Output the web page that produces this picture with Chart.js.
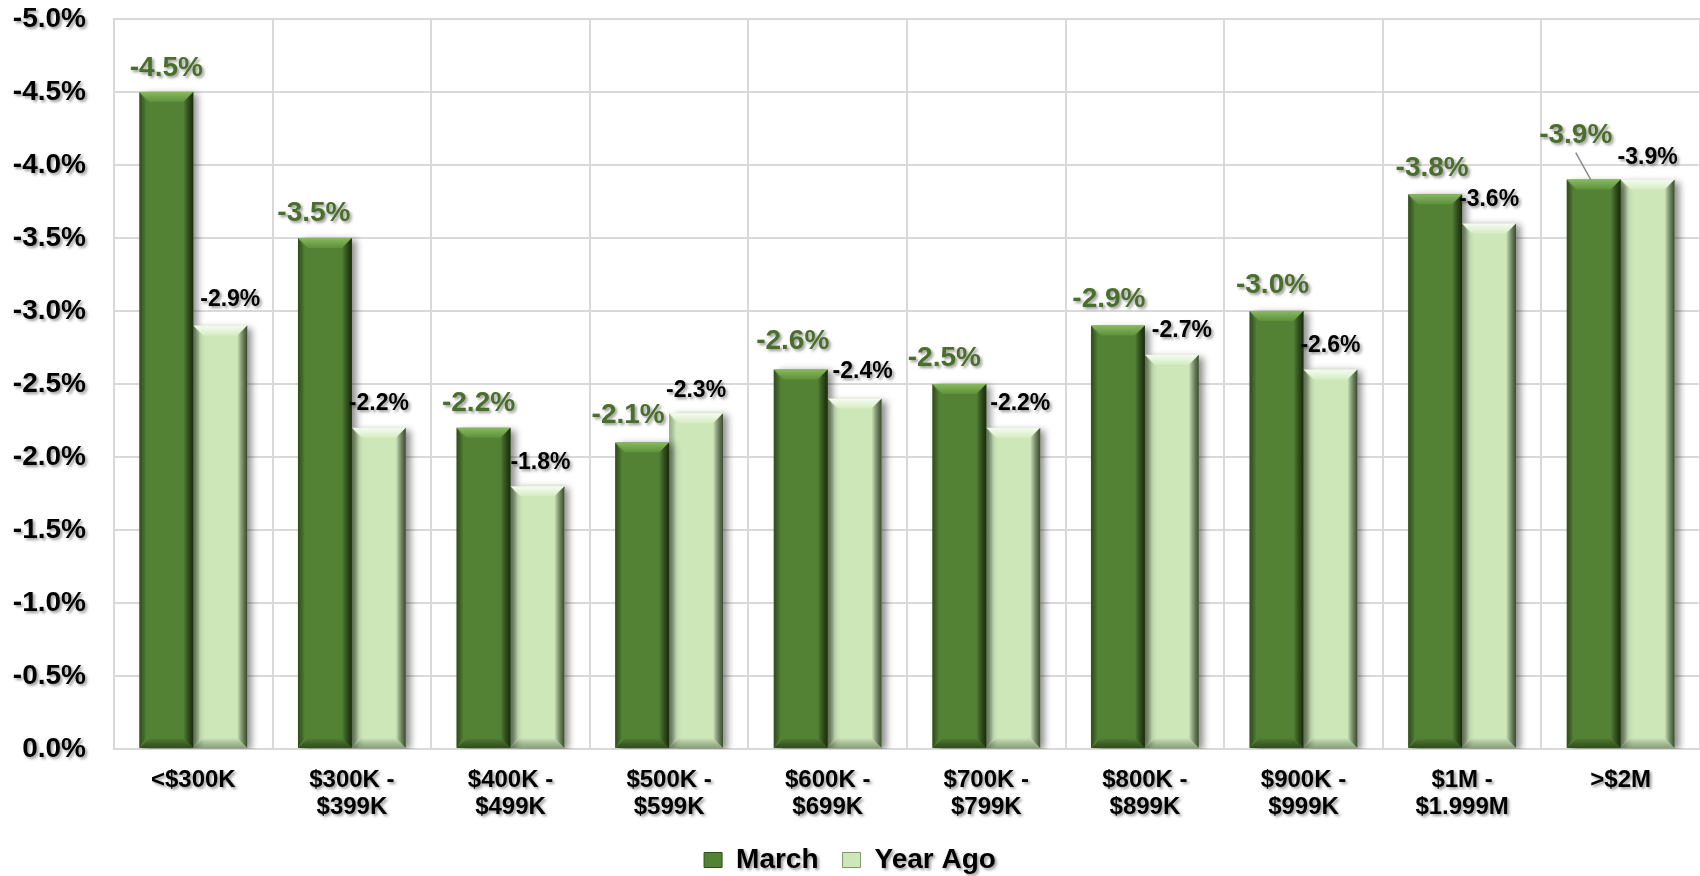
<!DOCTYPE html>
<html>
<head>
<meta charset="utf-8">
<title>Price change by price range</title>
<script src="https://cdn.jsdelivr.net/npm/chart.js@4"></script>
<style>
	html, body { margin: 0; padding: 0; background: #fff; }
	#wrap { width: 1700px; height: 876px; }
</style>
</head>
<body>
<div id="wrap"><canvas id="price-change-chart" width="1700" height="876"></canvas></div>
<script>
const categories = [
	['<$300K'],
	['$300K -', '$399K'],
	['$400K -', '$499K'],
	['$500K -', '$599K'],
	['$600K -', '$699K'],
	['$700K -', '$799K'],
	['$800K -', '$899K'],
	['$900K -', '$999K'],
	['$1M -', '$1.999M'],
	['>$2M']
];
const marchValues = [-4.5, -3.5, -2.2, -2.1, -2.6, -2.5, -2.9, -3.0, -3.8, -3.9];
const yearAgoValues = [-2.9, -2.2, -1.8, -2.3, -2.4, -2.2, -2.7, -2.6, -3.6, -3.9];
const yTicks = [-5.0, -4.5, -4.0, -3.5, -3.0, -2.5, -2.0, -1.5, -1.0, -0.5, 0.0];

// hand placed label nudges [dx, dy] from the top centre of each bar
const marchLabelNudge = [[0, -24], [-11, -25], [-5, -25], [-14, -27], [-8, -28], [-15, -26], [-9, -26], [-4, -26], [-3, -26], [-18, -44]];
const yearAgoLabelNudge = [[10, -26], [0, -24], [3, -24], [0, -23], [8, -27], [7, -24], [10, -24], [0, -24], [0, -24], [0, -22]];
const marchLeader = [false, false, false, false, false, false, false, false, false, true];

const FONT = "'Liberation Sans', Arial, Helvetica, sans-serif";
const GRID = '#d9d9d9';

const tones = [
	{ main: '#548235', hiTop: '#86b960', hiBottom: '#5e9139', edge: 'rgba(18,36,8,0.9)', edgeLeft: 'rgba(18,36,8,0.55)', bottom: 'rgba(18,36,8,0.55)', label: '#4a6f2a', labelSize: 28 },
	{ main: '#cde7b9', hiTop: '#f6fcf1', hiBottom: '#d5ecc3', edge: 'rgba(40,62,28,0.9)', edgeLeft: 'rgba(40,62,28,0.35)', bottom: 'rgba(40,62,28,0.4)', label: '#000', labelSize: 23 }
];
const nudges = [marchLabelNudge, yearAgoLabelNudge];

function poly(ctx, pts) {
	ctx.beginPath();
	ctx.moveTo(pts[0][0], pts[0][1]);
	for (let i = 1; i < pts.length; i++) ctx.lineTo(pts[i][0], pts[i][1]);
	ctx.closePath();
	ctx.fill();
}

function drawBevel(ctx, bar, tone) {
	const {x, y, base, width} = bar.getProps(['x', 'y', 'base', 'width'], true);
	const l = x - width / 2, r = x + width / 2;
	const t = Math.min(y, base), b = Math.max(y, base);
	const e = Math.min(10, (b - t) / 2);

	let g = ctx.createLinearGradient(0, t, 0, t + e);
	g.addColorStop(0, tone.hiTop);
	g.addColorStop(1, tone.hiBottom);
	ctx.fillStyle = g;
	poly(ctx, [[l, t], [r, t], [r - e, t + e], [l + e, t + e]]);

	g = ctx.createLinearGradient(r - e, 0, r, 0);
	g.addColorStop(0, 'rgba(0,0,0,0)');
	g.addColorStop(1, tone.edge);
	ctx.fillStyle = g;
	poly(ctx, [[r, t], [r, b], [r - e, b - e], [r - e, t + e]]);

	g = ctx.createLinearGradient(l, 0, l + e * 0.7, 0);
	g.addColorStop(0, tone.edgeLeft);
	g.addColorStop(1, 'rgba(0,0,0,0)');
	ctx.fillStyle = g;
	poly(ctx, [[l, t], [l + e * 0.7, t + e], [l + e * 0.7, b - e], [l, b]]);

	g = ctx.createLinearGradient(0, b - e, 0, b);
	g.addColorStop(0, 'rgba(0,0,0,0)');
	g.addColorStop(1, tone.bottom);
	ctx.fillStyle = g;
	poly(ctx, [[l, b], [l + e, b - e], [r - e, b - e], [r, b]]);
}

// soft drop shadow under every piece of text
const textShadow = {
	id: 'textShadow',
	beforeDraw(chart) {
		const ctx = chart.ctx;
		if (ctx._shadowed) return;
		const fill = ctx.fillText;
		ctx.fillText = function() {
			this.save();
			this.shadowColor = 'rgba(0,0,0,0.4)';
			this.shadowBlur = 3;
			this.shadowOffsetX = 2;
			this.shadowOffsetY = 2;
			fill.apply(this, arguments);
			this.restore();
		};
		ctx._shadowed = true;
	}
};

const bevelBars = {
	id: 'bevelBars',
	beforeDatasetsDraw(chart) {
		const ctx = chart.ctx;
		ctx.save();
		ctx.shadowColor = 'rgba(0,0,0,0.45)';
		ctx.shadowBlur = 7;
		ctx.shadowOffsetX = 5;
		ctx.shadowOffsetY = 2;
	},
	afterDatasetsDraw(chart) {
		const ctx = chart.ctx;
		ctx.restore();
		ctx.save();
		chart.data.datasets.forEach((ds, di) => {
			chart.getDatasetMeta(di).data.forEach(bar => drawBevel(ctx, bar, tones[di]));
		});

		// value labels
		chart.data.datasets.forEach((ds, di) => {
			const tone = tones[di];
			ctx.font = 'bold ' + tone.labelSize + 'px ' + FONT;
			ctx.fillStyle = tone.label;
			ctx.textAlign = 'center';
			ctx.textBaseline = 'middle';
			chart.getDatasetMeta(di).data.forEach((bar, i) => {
				const [dx, dy] = nudges[di][i];
				const lx = bar.x + dx, ly = bar.y + dy;
				if (di === 0 && marchLeader[i]) {
					ctx.save();
					ctx.strokeStyle = '#8c8c8c';
					ctx.lineWidth = 1.5;
					ctx.beginPath();
					ctx.moveTo(lx, ly + 17);
					ctx.lineTo(bar.x - 3, bar.y);
					ctx.stroke();
					ctx.restore();
				}
				ctx.fillText(ds.data[i].toFixed(1) + '%', lx, ly);
			});
		});
		ctx.restore();
	}
};

new Chart(document.getElementById('price-change-chart').getContext('2d'), {
	type: 'bar',
	data: {
		labels: categories,
		datasets: [{
			label: 'March',
			data: marchValues,
			backgroundColor: tones[0].main,
			borderWidth: 0
		}, {
			label: 'Year Ago',
			data: yearAgoValues,
			backgroundColor: tones[1].main,
			borderWidth: 0
		}]
	},
	options: {
		responsive: false,
		animation: false,
		layout: { padding: { top: 0, right: 0, left: 0, bottom: -8 } },
		datasets: {
			bar: { categoryPercentage: 0.68, barPercentage: 1 }
		},
		scales: {
			x: {
				grid: { color: GRID, lineWidth: 2, drawTicks: false, offset: true },
				border: { color: GRID, width: 2 },
				ticks: {
					color: '#000',
					font: { family: FONT, size: 24, weight: 'bold', lineHeight: 1.12 },
					padding: 18,
					maxRotation: 0,
					autoSkip: false
				},
				afterFit(scale) { scale.height = 73; }
			},
			y: {
				reverse: true,
				min: -5,
				max: 0,
				afterBuildTicks(scale) { scale.ticks = yTicks.map(v => ({ value: v })); },
				grid: { color: GRID, lineWidth: 2, drawTicks: false },
				border: { color: GRID, width: 2 },
				ticks: {
					color: '#000',
					font: { family: FONT, size: 28, weight: 'bold' },
					padding: 28,
					callback: v => v.toFixed(1) + '%'
				},
				afterFit(scale) {
					scale.width = 114;
					scale.paddingTop = 19;
					scale.paddingBottom = 0;
				}
			}
		},
		plugins: {
			legend: {
				position: 'bottom',
				labels: {
					color: '#000',
					font: { family: FONT, size: 28, weight: 'bold' },
					boxWidth: 18,
					boxHeight: 15,
					padding: 24,
					generateLabels(chart) {
						return chart.data.datasets.map((ds, i) => ({
							text: ds.label,
							fillStyle: tones[i].main,
							strokeStyle: i === 0 ? '#2f4d1c' : '#7f9c6c',
							lineWidth: 1,
							hidden: false,
							datasetIndex: i
						}));
					}
				}
			},
			tooltip: { enabled: false }
		}
	},
	plugins: [textShadow, bevelBars]
});
</script>
</body>
</html>
